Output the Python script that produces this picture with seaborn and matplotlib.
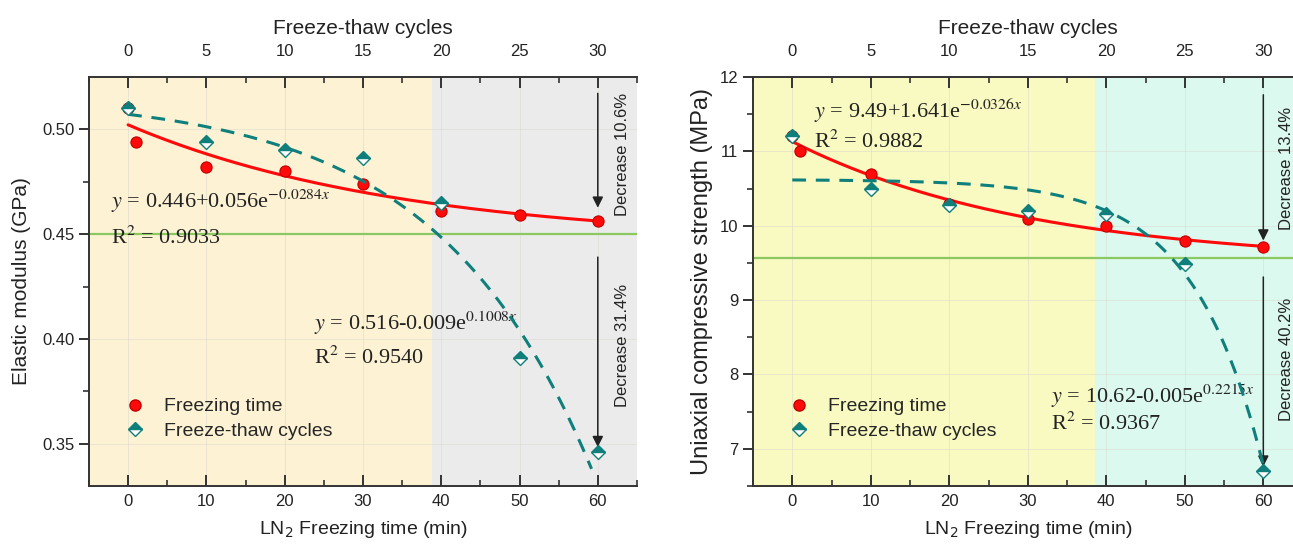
import numpy as np
import pandas as pd
import matplotlib
matplotlib.use('Agg')
import matplotlib.pyplot as plt
from matplotlib.lines import Line2D
from matplotlib.ticker import MultipleLocator, FormatStrFormatter
import seaborn as sns

# %% data
time_min = [0, 1, 10, 20, 30, 40, 50, 60]      # LN2 freezing time (min)
cycles = [0, 5, 10, 15, 20, 25, 30]            # freeze-thaw cycles

E_time = [0.510, 0.494, 0.482, 0.480, 0.474, 0.461, 0.459, 0.456]
E_cycles = [0.510, 0.494, 0.490, 0.486, 0.465, 0.391, 0.346]
UCS_time = [11.21, 11.01, 10.70, 10.29, 10.09, 10.00, 9.80, 9.71]
UCS_cycles = [11.21, 10.49, 10.28, 10.20, 10.16, 9.48, 6.70]

# fitted curves printed on the chart: y = a + b*exp(c*x)
E_fit_time = (0.446, 0.056, -0.0284)
E_fit_cycles = (0.516, -0.009, 0.1008)
UCS_fit_time = (9.49, 1.641, -0.0326)
UCS_fit_cycles = (10.62, -0.005, 0.2215)

E_ref = 0.45
UCS_ref = 9.56

# %% style
sns.set_theme(style='ticks')
plt.rcParams['font.family'] = ['Liberation Sans', 'DejaVu Sans']
plt.rcParams['axes.edgecolor'] = '#333333'
plt.rcParams['axes.linewidth'] = 1.4

red = '#ff0a0a'
teal = '#0f7f7c'
green = '#8cc862'
txt = '#222222'


def fit_df(coefs, x_end):
    a, b, c = coefs
    x = np.linspace(0, x_end, 200)
    return pd.DataFrame({'x': x, 'y': a + b * np.exp(c * x)})


def panel(ax, y_time, y_cyc, fit_t, fit_c, cyc_end, ref, ylim, yticks, ymin,
          shade_split, shade_cols, ylabel, ylab_size, ylab_pad, fmt):
    ax.set_xlim(-5, 65)
    ax.set_ylim(*ylim)
    ax.axvspan(-5, shade_split, color=shade_cols[0], lw=0, zorder=0)
    ax.axvspan(shade_split, 65, color=shade_cols[1], lw=0, zorder=0)
    ax.grid(True, color='#d9d9d0', lw=0.6, alpha=0.6)
    ax.set_axisbelow(True)
    ax.axhline(ref, color=green, lw=1.6, zorder=1)

    sns.lineplot(data=fit_df(fit_t, 60), x='x', y='y', color=red, lw=2.2, ax=ax, zorder=3)
    sns.scatterplot(x=time_min, y=y_time, color=red, edgecolor='#c00000', s=65,
                    linewidth=0.8, ax=ax, zorder=4)

    ax.xaxis.set_major_locator(MultipleLocator(10))
    ax.xaxis.set_minor_locator(MultipleLocator(5))
    ax.yaxis.set_major_locator(MultipleLocator(yticks))
    ax.yaxis.set_minor_locator(MultipleLocator(ymin))
    ax.yaxis.set_major_formatter(FormatStrFormatter(fmt))
    ax.tick_params(axis='x', which='both', direction='in', top=False, labelsize=12,
                   colors='#333333', labelcolor=txt)
    ax.tick_params(axis='x', which='major', length=8, width=1.4, pad=6)
    ax.tick_params(axis='x', which='minor', length=4, width=1.2)
    ax.tick_params(axis='y', which='both', direction='out', labelsize=12,
                   colors='#333333', labelcolor=txt)
    ax.tick_params(axis='y', which='major', length=7, width=1.4)
    ax.tick_params(axis='y', which='minor', length=4, width=1.2)
    ax.spines['right'].set_visible(False)
    ax.spines['top'].set_visible(False)
    ax.set_xlabel('LN$_2$ Freezing time (min)', fontsize=14, labelpad=7, color=txt)
    ax.set_ylabel(ylabel, fontsize=ylab_size, labelpad=ylab_pad, color=txt)

    # top axis: freeze-thaw cycles
    top = ax.twiny()
    top.set_xlim(-2.5, 32.5)
    sns.lineplot(data=fit_df(fit_c, cyc_end), x='x', y='y', color=teal, lw=2.2,
                 ax=top, zorder=3)
    top.lines[-1].set_dashes((4.5, 3.2))
    sns.lineplot(x=cycles, y=y_cyc, marker='D', linestyle='', markersize=7.5,
                 fillstyle='top', markerfacecolor=teal, markerfacecoloralt='white',
                 markeredgecolor=teal, markeredgewidth=1.0, ax=top, zorder=4)
    top.xaxis.set_major_locator(MultipleLocator(5))
    top.xaxis.set_minor_locator(MultipleLocator(2.5))
    top.tick_params(axis='x', which='both', direction='in', labelsize=12,
                    colors='#333333', labelcolor=txt)
    top.tick_params(axis='x', which='major', length=8, width=1.4, pad=13)
    top.tick_params(axis='x', which='minor', length=4, width=1.2)
    for s in ['left', 'right', 'bottom']:
        top.spines[s].set_visible(False)
    top.set_xlabel('Freeze-thaw cycles', fontsize=15, labelpad=7, color=txt)

    handles = [
        Line2D([], [], ls='', marker='o', color=red, mec='#c00000', ms=8),
        Line2D([], [], ls='', marker='D', ms=7.5, fillstyle='top', mfc=teal,
               mfcalt='white', mec=teal),
    ]
    ax.legend(handles, ['Freezing time', 'Freeze-thaw cycles'], loc='lower left',
              bbox_to_anchor=(0.03, 0.07), frameon=False, fontsize=14,
              handletextpad=0.9, labelspacing=0.35, handlelength=1.2)
    return top


def arrow(ax, x, y0, y1):
    ax.annotate('', xy=(x, y1), xytext=(x, y0),
                arrowprops=dict(arrowstyle='-|>', color=txt, lw=1.1,
                                mutation_scale=16, shrinkA=0, shrinkB=0), zorder=5)


eq_kw = dict(fontsize=16, family='Liberation Serif', math_fontfamily='stix',
             color=txt, zorder=6)

fig = plt.figure(figsize=(12.93, 5.45), dpi=100)
ax1 = fig.add_axes([0.0688, 0.1083, 0.4238, 0.7505])
ax2 = fig.add_axes([0.5824, 0.1083, 0.4250, 0.7505])

# %% left panel: elastic modulus
panel(ax1, E_time, E_cycles, E_fit_time, E_fit_cycles, 29.6, E_ref, (0.33, 0.5248),
      0.05, 0.025, 38.8, ('#fdf3d4', '#ebebeb'), 'Elastic modulus (GPa)', 15, 8, '%.2f')
arrow(ax1, 60, 0.517, 0.4625)
arrow(ax1, 60, 0.439, 0.3485)
ax1.text(63.2, 0.488, 'Decrease 10.6%', rotation=90, ha='center', va='center',
         fontsize=12, color=txt)
ax1.text(63.2, 0.397, 'Decrease 31.4%', rotation=90, ha='center', va='center',
         fontsize=12, color=txt)
ax1.text(-2.2, 0.4625, r'$y$ = 0.446+0.056e$^{-0.0284x}$', **eq_kw)
ax1.text(-2.2, 0.4455, r'R$^{2}$ = 0.9033', **eq_kw)
ax1.text(23.8, 0.4045, r'$y$ = 0.516-0.009e$^{0.1008x}$', **eq_kw)
ax1.text(23.8, 0.388, r'R$^{2}$ = 0.9540', **eq_kw)

# %% right panel: UCS
panel(ax2, UCS_time, UCS_cycles, UCS_fit_time, UCS_fit_cycles, 30, UCS_ref, (6.5, 12),
      1, 0.5, 38.6, ('#f9f9c2', '#dcf9ef'), 'Uniaxial compressive strength (MPa)', 17, 5, '%d')
arrow(ax2, 60, 11.76, 9.8)
arrow(ax2, 60, 9.31, 6.76)
ax2.text(62.9, 10.77, 'Decrease 13.4%', rotation=90, ha='center', va='center',
         fontsize=12, color=txt)
ax2.text(62.9, 8.2, 'Decrease 40.2%', rotation=90, ha='center', va='center',
         fontsize=12, color=txt)
ax2.text(2.8, 11.45, r'$y$ = 9.49+1.641e$^{-0.0326x}$', **eq_kw)
ax2.text(2.8, 11.05, r'R$^{2}$ = 0.9882', **eq_kw)
ax2.text(32.9, 7.62, r'$y$ = 10.62-0.005e$^{0.2215x}$', **eq_kw)
ax2.text(32.9, 7.26, r'R$^{2}$ = 0.9367', **eq_kw)

fig.savefig('out.png', dpi=100)
